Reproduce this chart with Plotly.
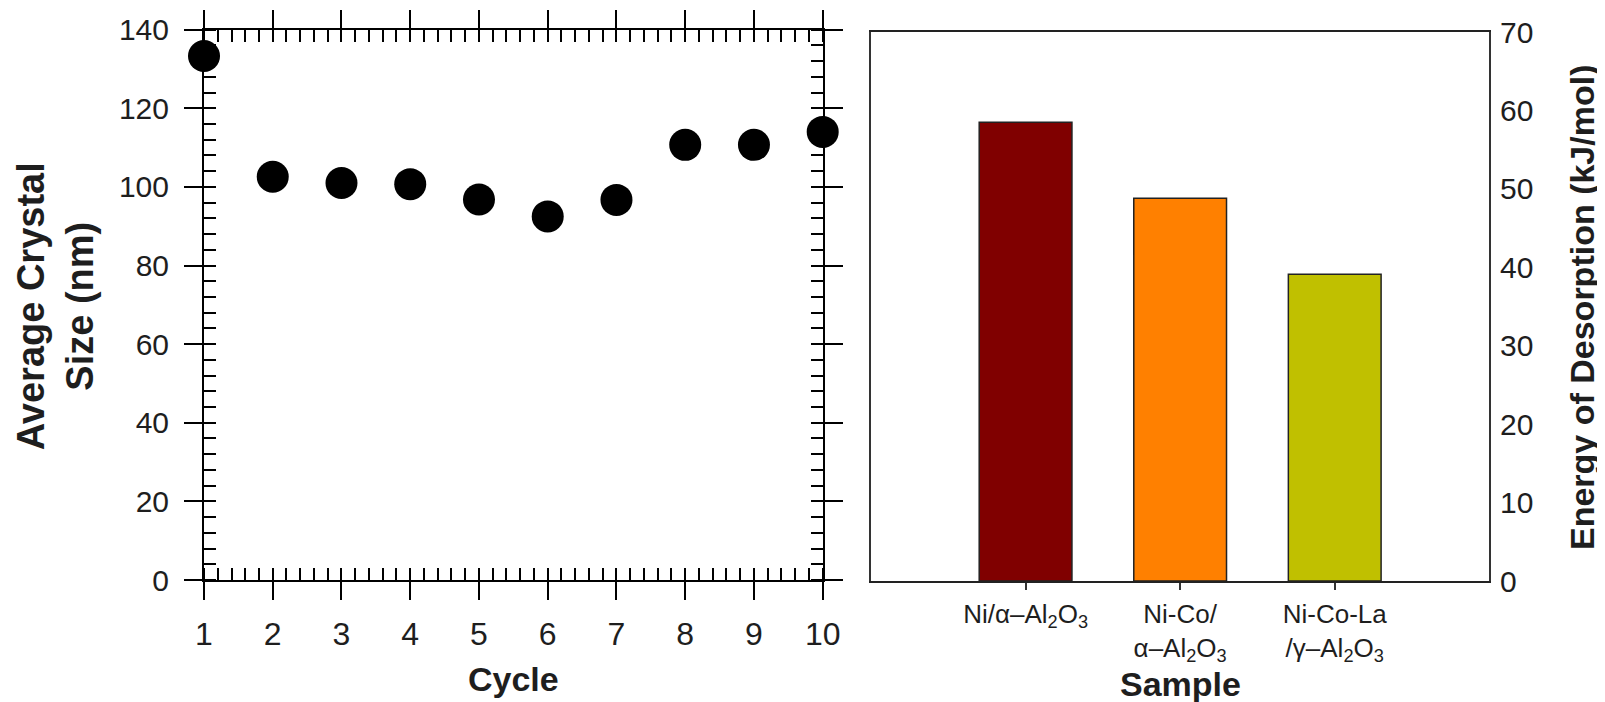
import plotly.graph_objects as go

cycles = [1, 2, 3, 4, 5, 6, 7, 8, 9, 10]
crystal_size = [133.3, 102.6, 101.0, 100.7, 96.8, 92.5, 96.7, 110.7, 110.7, 114.0]

samples = ["Ni/α–Al<sub>2</sub>O<sub>3</sub>",
           "Ni-Co/<br>α–Al<sub>2</sub>O<sub>3</sub>",
           "Ni-Co-La<br>/γ–Al<sub>2</sub>O<sub>3</sub>"]
energy = [58.5, 48.8, 39.1]
bar_colors = ["#800000", "#FF8000", "#C0C000"]

FONT = "Liberation Sans, Arial, sans-serif"
TXT = "#1e1e1e"

# page body has an 8px margin, so the figure is drawn 8px right/down in the window
W, H, OFF = 1605, 702, 8


def px(xw):
    return (xw - OFF) / W


def py(yw):
    return 1 - (yw - OFF) / H


fig = go.Figure()

fig.add_trace(go.Scatter(
    x=cycles, y=crystal_size, mode="markers",
    marker=dict(size=32, color="black", line=dict(width=0)),
    cliponaxis=False, xaxis="x", yaxis="y", showlegend=False))

fig.add_trace(go.Bar(
    x=samples, y=energy, width=0.6,
    marker=dict(color=bar_colors, line=dict(color="#222222", width=1.5)),
    xaxis="x2", yaxis="y2", showlegend=False))

yfont = dict(family=FONT, size=30, color=TXT)
xfont = dict(family=FONT, size=32, color=TXT)

fig.update_layout(
    width=W, height=H,
    margin=dict(l=0, r=0, t=0, b=0),
    paper_bgcolor="white", plot_bgcolor="white",
    font=dict(family=FONT, color=TXT),
    xaxis=dict(
        domain=[px(204), px(822.7)], anchor="y", range=[1, 10],
        tickmode="linear", tick0=1, dtick=1,
        ticks="outside", ticklen=18, tickwidth=2, tickcolor="black",
        minor=dict(ticks="inside", ticklen=12, tickwidth=2, tickcolor="black", dtick=0.2, tick0=1),
        showline=True, linecolor="black", linewidth=2, mirror="allticks",
        showgrid=False, zeroline=False, layer="below traces",
        tickfont=xfont, ticklabelstandoff=7, automargin=False),
    yaxis=dict(
        domain=[py(580), py(29.7)], anchor="x", range=[0, 140],
        tickmode="linear", tick0=0, dtick=20,
        ticks="outside", ticklen=18, tickwidth=2, tickcolor="black",
        minor=dict(ticks="inside", ticklen=12, tickwidth=2, tickcolor="black", dtick=4, tick0=0),
        showline=True, linecolor="black", linewidth=2, mirror="allticks",
        showgrid=False, zeroline=False, layer="below traces",
        tickfont=yfont, ticklabelstandoff=9, automargin=False),
    xaxis2=dict(
        domain=[px(871), px(1489.3)], anchor="y2", range=[-1, 3],
        ticks="outside", ticklen=7, tickwidth=1.5, tickcolor="#333333",
        showline=True, linecolor="#222222", linewidth=1.5, mirror=True,
        showgrid=False, zeroline=False,
        tickfont=dict(family=FONT, size=26, color=TXT), ticklabelstandoff=2,
        automargin=False),
    yaxis2=dict(
        domain=[py(581), py(32)], anchor="x2", side="right", range=[0, 70],
        tickmode="linear", tick0=0, dtick=10,
        ticks="outside", ticklen=3, tickcolor="rgba(0,0,0,0)",
        showline=True, linecolor="#333333", linewidth=1.5, mirror=True,
        showgrid=False, zeroline=False,
        tickfont=yfont, automargin=False),
    yaxis3=dict(
        domain=[py(581), py(32)], anchor="x2", overlaying="y2", side="left", range=[0, 70],
        tickmode="linear", tick0=0, dtick=10,
        ticks="outside", ticklen=6, tickwidth=1.5, tickcolor="#333333",
        showticklabels=False, showline=False, showgrid=False, zeroline=False,
        automargin=False),
)

common = dict(xref="paper", yref="paper", showarrow=False, xanchor="center", yanchor="middle")
fig.add_annotation(text="<b>Average Crystal<br>Size (nm)</b>", textangle=-90,
                   x=px(55.5), y=py(306.7), font=dict(family=FONT, size=38, color=TXT), **common)
fig.add_annotation(text="<b>Cycle</b>", x=px(513.5), y=py(679),
                   font=dict(family=FONT, size=34, color=TXT), **common)
fig.add_annotation(text="<b>Sample</b>", x=px(1180), y=py(684),
                   font=dict(family=FONT, size=34, color=TXT), **common)
fig.add_annotation(text="<b>Energy of Desorption (kJ/mol)</b>", textangle=-90,
                   x=px(1582), y=py(307), font=dict(family=FONT, size=34, color=TXT), **common)

fig.write_html("out.html")
